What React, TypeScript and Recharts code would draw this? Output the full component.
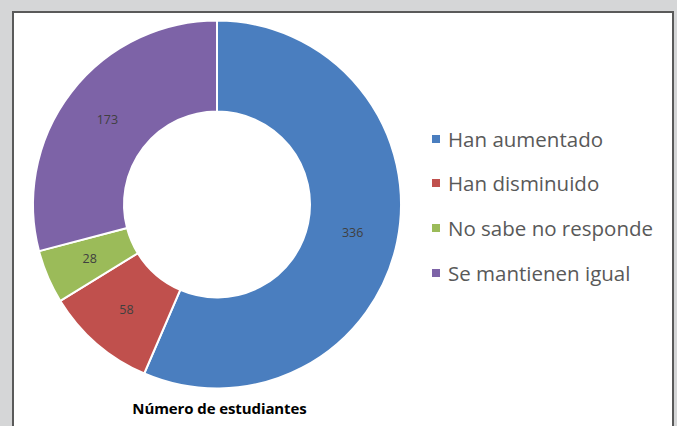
import React from "react";
import { PieChart, Pie, Cell, Legend } from "recharts";

const categories = ["Han aumentado", "Han disminuido", "No sabe no responde", "Se mantienen igual"];
const values = [336, 58, 28, 173];
const colors = ["#4a7ebf", "#c0504d", "#9bbb59", "#7d63a7"];

const data = categories.map((name, i) => ({ name, value: values[i] }));
const RADIAN = Math.PI / 180;

const font = "'Open Sans', 'Noto Sans', sans-serif";

function SliceLabel(props: any) {
  const { cx, cy, midAngle, innerRadius, outerRadius, value } = props;
  const r = (innerRadius + outerRadius) / 2;
  const x = cx + r * Math.cos(-midAngle * RADIAN);
  const y = cy + r * Math.sin(-midAngle * RADIAN);
  return (
    <text x={x} y={y} fill="#404040" fontSize={12.5} fontFamily={font} textAnchor="middle" dominantBaseline="central">
      {value}
    </text>
  );
}

function LegendBox() {
  return (
    <ul style={{ listStyle: "none", margin: 0, padding: 0 }}>
      {data.map((d, i) => (
        <li key={d.name} style={{ height: 44.6, display: "flex", alignItems: "center" }}>
          <span style={{ width: 8, height: 8, background: colors[i], marginRight: 8, flexShrink: 0 }} />
          <span style={{ fontFamily: font, fontSize: 20.5, color: "#595959", whiteSpace: "nowrap" }}>{d.name}</span>
        </li>
      ))}
    </ul>
  );
}

export default function App() {
  return (
    <div style={{ position: "absolute", left: 0, top: 0, width: 677, height: 426, background: "#d5d6d7", overflow: "hidden" }}>
      <div
        style={{
          position: "absolute", left: 12, top: 11, width: 662, height: 430,
          background: "#fff", border: "2px solid #5a5a5a", boxSizing: "border-box",
        }}
      />
      <div style={{ position: "absolute", left: 0, top: 0 }}>
        <PieChart width={677} height={426} margin={{ top: 0, right: 0, bottom: 0, left: 0 }}>
          <Pie
            data={data}
            dataKey="value"
            nameKey="name"
            cx={217}
            cy={204.5}
            innerRadius={93}
            outerRadius={184}
            startAngle={90}
            endAngle={-270}
            stroke="#ffffff"
            strokeWidth={2}
            label={SliceLabel}
            labelLine={false}
            isAnimationActive={false}
          >
            {data.map((d, i) => <Cell key={d.name} fill={colors[i]} />)}
          </Pie>
          <Legend content={LegendBox} wrapperStyle={{ left: 432, top: 116.5, width: 240, right: "auto", bottom: "auto" }} />
        </PieChart>
      </div>
      <div
        style={{
          position: "absolute", left: 0, width: 439, top: 398, textAlign: "center",
          fontFamily: font, fontWeight: 700, fontSize: 15, color: "#000", letterSpacing: -0.1,
        }}
      >
        Número de estudiantes
      </div>
    </div>
  );
}
